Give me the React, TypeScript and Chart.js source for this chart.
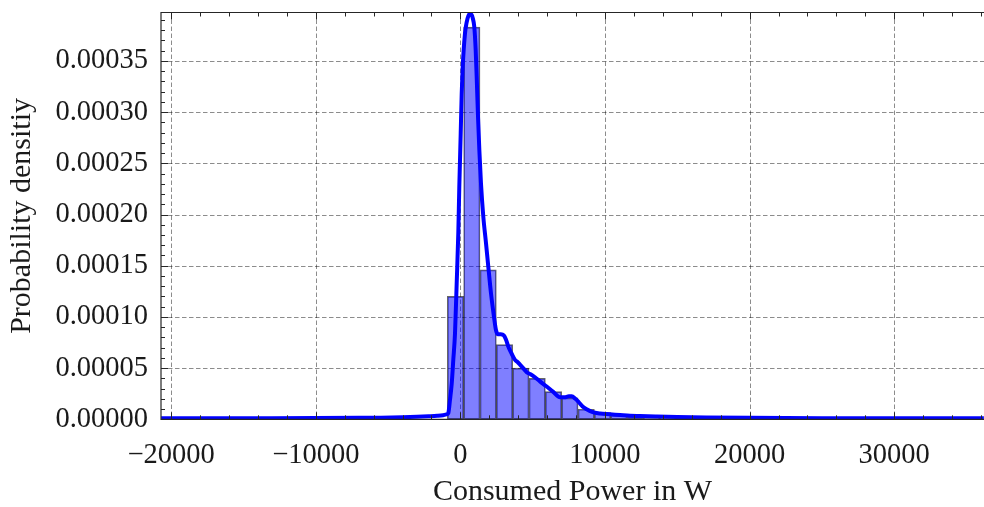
import { useEffect, useRef } from "react";
import { Chart, registerables } from "chart.js";

Chart.register(...registerables);

// Histogram of consumed power (density-normalised), equal-width bins
const binStart = -905;
const binWidth = 1130;
const binDensity = [
  0.00012, 0.000383, 0.000146, 0.000073, 0.00005, 0.00004, 0.000027,
  0.000021, 0.0000098, 0.0000065, 0.000004, 0.0000025, 0.0000015, 0.000001,
];

// Kernel density estimate of the same sample
const kdePower = [
  -20700, -15000, -10000, -7000, -5500, -4000, -3000, -2200, -1600, -1200,
  -950, -837, -720, -600, -491, -373, -256, -145, -76, 21, 90, 159, 318, 436,
  550, 664, 780, 851, 963, 1056, 1125, 1217, 1310, 1425, 1584, 1771, 1930,
  2116, 2324, 2462, 2600, 2800, 3000, 3150, 3313, 3548, 3776, 3950, 4150,
  4400, 4585, 4850, 5159, 5500, 5968, 6400, 6888, 7200, 7500, 7697, 7950,
  8154, 8450, 8734, 9100, 9654, 10346, 11037, 11729, 12420, 13500, 15000,
  17000, 20000, 25000, 30000, 36200,
];
const kdeDensity = [
  0.000001, 0.0000011, 0.0000012, 0.0000014, 0.0000016, 0.000002, 0.0000024,
  0.0000029, 0.0000034, 0.000004, 0.0000048, 0.000006, 0.000019, 0.000035,
  0.000058, 0.000084, 0.000133, 0.000182, 0.000227, 0.000279, 0.000318,
  0.000344, 0.000377, 0.000388, 0.000394, 0.000396, 0.000395, 0.000392,
  0.000383, 0.000361, 0.000335, 0.000296, 0.000263, 0.00023, 0.000198,
  0.000172, 0.000149, 0.000123, 0.0001, 0.000087, 0.000083, 0.000083,
  0.000082, 0.000078, 0.000071, 0.000064, 0.000058, 0.000056, 0.000053,
  0.000049, 0.000046, 0.000044, 0.000041, 0.000037, 0.000032, 0.000027,
  0.0000215, 0.0000215, 0.0000225, 0.0000225, 0.00002, 0.0000172, 0.0000125,
  0.0000098, 0.0000072, 0.0000056, 0.0000049, 0.0000042, 0.0000035,
  0.0000032, 0.0000028, 0.0000023, 0.0000018, 0.0000014, 0.0000011, 0.000001,
  0.000001,
];

// Axis ticks
const xMajorTicks = [-20000, -10000, 0, 10000, 20000, 30000];
const xMinorStep = 2000;
const yMajorTicks = [0, 0.00005, 0.0001, 0.00015, 0.0002, 0.00025, 0.0003, 0.00035];
const yMinorStep = 0.00001;
const xLimits = [-20705, 36210];
const yLimits = [0, 0.0003973];

const FONT = "'Liberation Serif', 'Times New Roman', serif";
const TEXT = "#1a1a1a";

const formatPower = (v: number) => (v < 0 ? "\u2212" + Math.abs(v) : String(v));

// Dashed grid underneath the data, framed axes with inward ticks on top
const axesDecor = {
  id: "axesDecor",
  beforeDatasetsDraw(chart: any) {
    const { ctx, chartArea: a, scales } = chart;
    const x = scales.x;
    const y = scales.y;
    ctx.save();
    ctx.strokeStyle = "rgba(0,0,0,0.45)";
    ctx.lineWidth = 1;
    ctx.setLineDash([4.5, 2.5]);
    for (const v of xMajorTicks) {
      const px = Math.round(x.getPixelForValue(v)) + 0.5;
      if (px < a.left || px > a.right) continue;
      ctx.beginPath();
      ctx.moveTo(px, a.top);
      ctx.lineTo(px, a.bottom);
      ctx.stroke();
    }
    for (const v of yMajorTicks) {
      if (v === 0) continue;
      const py = Math.round(y.getPixelForValue(v)) + 0.5;
      ctx.beginPath();
      ctx.moveTo(a.left, py);
      ctx.lineTo(a.right, py);
      ctx.stroke();
    }
    ctx.restore();
  },
  afterDatasetsDraw(chart: any) {
    const { ctx, chartArea: a, scales } = chart;
    const x = scales.x;
    const y = scales.y;
    ctx.save();
    ctx.strokeStyle = "#262626";
    ctx.lineWidth = 1.2;
    ctx.setLineDash([]);
    // frame
    ctx.beginPath();
    ctx.moveTo(a.right + 2, a.top);
    ctx.lineTo(a.left, a.top);
    ctx.lineTo(a.left, a.bottom);
    ctx.lineTo(a.right + 2, a.bottom);
    ctx.stroke();

    ctx.lineWidth = 1;
    const major = 7;
    const minor = 4;
    const xStart = Math.ceil(xLimits[0] / xMinorStep) * xMinorStep;
    for (let v = xStart; v <= xLimits[1]; v += xMinorStep) {
      const len = v % 10000 === 0 ? major : minor;
      const px = Math.round(x.getPixelForValue(v)) + 0.5;
      ctx.beginPath();
      ctx.moveTo(px, a.bottom);
      ctx.lineTo(px, a.bottom - len);
      ctx.moveTo(px, a.top);
      ctx.lineTo(px, a.top + len);
      ctx.stroke();
    }
    const steps = Math.floor(yLimits[1] / yMinorStep + 1e-9);
    for (let i = 0; i <= steps; i++) {
      const v = i * yMinorStep;
      const len = i % 5 === 0 ? major : minor;
      const py = Math.round(y.getPixelForValue(v)) + 0.5;
      ctx.beginPath();
      ctx.moveTo(a.left, py);
      ctx.lineTo(a.left + len, py);
      ctx.stroke();
    }
    ctx.restore();
  },
};

export default function App() {
  const canvasRef = useRef<HTMLCanvasElement | null>(null);

  useEffect(() => {
    const canvas = canvasRef.current;
    if (!canvas) return;

    const bars = binDensity.map((d, i) => ({ x: binStart + (i + 0.5) * binWidth, y: d }));
    const kde = kdePower.map((p, i) => ({ x: p, y: kdeDensity[i] }));

    const chart = new Chart(canvas, {
      type: "bar",
      data: {
        datasets: [
          {
            type: "line",
            label: "KDE",
            data: kde,
            borderColor: "#0000ff",
            borderWidth: 4,
            pointRadius: 0,
            cubicInterpolationMode: "monotone",
            clip: 0,
            order: 0,
          } as any,
          {
            type: "bar",
            label: "Histogram",
            data: bars,
            backgroundColor: "rgba(0,0,255,0.5)",
            borderColor: "rgba(0,0,0,0.6)",
            borderWidth: 1,
            borderSkipped: false,
            barPercentage: 1,
            categoryPercentage: 1,
            order: 1,
          } as any,
        ],
      },
      options: {
        responsive: false,
        animation: false,
        devicePixelRatio: 1,
        layout: { padding: { top: 12.5, left: 0, right: 0, bottom: 0 } },
        plugins: { legend: { display: false }, tooltip: { enabled: false } },
        scales: {
          x: {
            type: "linear",
            min: xLimits[0],
            max: xLimits[1],
            offset: false,
            grid: { display: false, drawTicks: false, offset: false },
            border: { display: false },
            afterBuildTicks: (s: any) => {
              s.ticks = xMajorTicks.map((value) => ({ value }));
            },
            afterFit: (s: any) => {
              s.height = 507 - 419.3;
              s.paddingLeft = 0;
              s.paddingRight = 0;
            },
            ticks: {
              autoSkip: false,
              maxRotation: 0,
              padding: 19,
              color: TEXT,
              font: { family: FONT, size: 28.5 },
              callback: (v: any) => formatPower(Number(v)),
            },
            title: {
              display: true,
              text: "Consumed Power in W",
              color: TEXT,
              font: { family: FONT, size: 30, lineHeight: 1 },
              padding: { top: 0, bottom: 0 },
            },
          },
          y: {
            type: "linear",
            min: yLimits[0],
            max: yLimits[1],
            grid: { display: false, drawTicks: false },
            border: { display: false },
            afterBuildTicks: (s: any) => {
              s.ticks = yMajorTicks.map((value) => ({ value }));
            },
            afterFit: (s: any) => {
              s.width = 161;
              s.paddingTop = 0;
              s.paddingBottom = 0;
            },
            ticks: {
              autoSkip: false,
              padding: 13,
              color: TEXT,
              font: { family: FONT, size: 28.5 },
              callback: (v: any) => Number(v).toFixed(5),
            },
            title: {
              display: true,
              text: "Probability densitiy",
              color: TEXT,
              font: { family: FONT, size: 30, lineHeight: 1 },
              padding: { top: 7, bottom: 0 },
            },
          },
        },
      },
      plugins: [axesDecor],
    });

    return () => chart.destroy();
  }, []);

  return (
    <div style={{ position: "fixed", left: 0, top: 0, width: 984, height: 507, background: "#fff" }}>
      <canvas ref={canvasRef} width={984} height={507} style={{ display: "block" }} />
    </div>
  );
}
